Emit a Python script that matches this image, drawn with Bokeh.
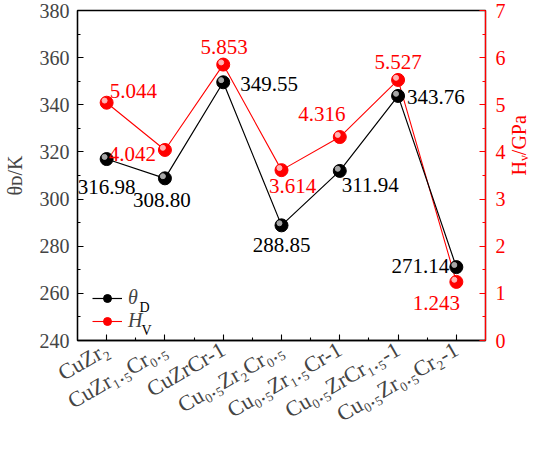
import math
from bokeh.plotting import figure
from bokeh.models import (Range1d, LinearAxis, FixedTicker, Label, Legend,
                          LegendItem, ColumnDataSource)
from bokeh.transform import dodge
from bokeh.core.properties import value
from bokeh.embed import file_html
from bokeh.resources import INLINE

# ---------------- data ----------------
categories = ["CuZr₂", "CuZr₁.₅Cr₀.₅", "CuZrCr-1", "Cu₀.₅Zr₂Cr₀.₅",
              "Cu₀.₅Zr₁.₅Cr-1", "Cu₀.₅ZrCr₁.₅-1", "Cu₀.₅Zr₀.₅Cr₂-1"]
theta_D = [316.98, 308.80, 349.55, 288.85, 311.94, 343.76, 271.14]
H_V = [5.044, 4.042, 5.853, 3.614, 4.316, 5.527, 1.243]
theta_text = ["316.98", "308.80", "349.55", "288.85", "311.94", "343.76", "271.14"]
hv_text = ["5.044", "4.042", "5.853", "3.614", "4.316", "5.527", "1.243"]
left_ticks = [240, 260, 280, 300, 320, 340, 360, 380]
left_minor = [250, 270, 290, 310, 330, 350, 370]
right_ticks = [0, 1, 2, 3, 4, 5, 6, 7]
right_minor = [0.5, 1.5, 2.5, 3.5, 4.5, 5.5, 6.5]
left_title = "θᴅ/K"
right_title = "Hᵥ/GPa"

# label placement (screen px offsets, positive y = down)
theta_dx = [0, -3, 17, 0, 2, 9, -7]
theta_dy = [28, 22, 2, 20, 14, 1, -1]
theta_align = ["center", "center", "left", "center", "left", "left", "right"]
hv_dx = [3, -9, 1, 11, -18, 0, -20]
hv_dy = [-12, 4, -18, 16, -23, -18, 21]
hv_align = ["left", "right", "center", "center", "center", "center", "center"]

FONT = "Liberation Serif"
idx = list(range(len(categories)))

p = figure(width=543, height=440,
           x_range=Range1d(-0.5, len(categories) - 0.5),
           y_range=Range1d(240, 380),
           output_backend="svg", toolbar_location=None,
           min_border_left=75, min_border_right=54,
           min_border_top=10, min_border_bottom=97)
p.extra_y_ranges = {"hv": Range1d(0, 7)}
p.xgrid.visible = False
p.ygrid.visible = False
p.outline_line_color = "black"
p.outline_line_width = 1.3
p.background_fill_color = "white"
p.border_fill_color = "white"

right = LinearAxis(y_range_name="hv")
p.add_layout(right, "right")

xa = p.xaxis[0]
ya = p.yaxis[0]
xa.ticker = FixedTicker(ticks=idx, minor_ticks=[i + 0.5 for i in idx[:-1]])
xa.major_label_overrides = {i: c for i, c in zip(idx, categories)}
xa.major_label_orientation = math.pi / 6
ya.ticker = FixedTicker(ticks=left_ticks, minor_ticks=left_minor)
right.ticker = FixedTicker(ticks=right_ticks, minor_ticks=right_minor)

for ax in (xa, ya, right):
    ax.major_tick_in = 6
    ax.major_tick_out = 0
    ax.minor_tick_in = 3
    ax.minor_tick_out = 0
    ax.axis_line_width = 1.3
    ax.major_tick_line_width = 1.1
    ax.minor_tick_line_width = 1.1
    ax.major_label_text_font = FONT
    ax.major_label_text_font_size = "20px"
    ax.axis_label_text_font = FONT
    ax.axis_label_text_font_size = "20px"
    ax.axis_label_text_font_style = "normal"
xa.major_label_text_font_size = "22px"
xa.major_label_standoff = 7
ya.major_label_standoff = 8
right.major_label_standoff = 10
for prop in ("axis_line_color", "major_tick_line_color", "minor_tick_line_color",
             "major_label_text_color", "axis_label_text_color"):
    setattr(right, prop, "red")

ya.axis_label = left_title
ya.axis_label_standoff = 11
right.axis_label = right_title
right.axis_label_standoff = 10
try:
    right.axis_label_orientation = math.pi / 2
except Exception:
    pass

bsrc = ColumnDataSource(dict(x=idx, y=theta_D, t=theta_text, dx=theta_dx,
                             dy=theta_dy, al=theta_align))
rsrc = ColumnDataSource(dict(x=idx, y=H_V, t=hv_text, dx=hv_dx, dy=hv_dy,
                             al=hv_align))

rl = p.line("x", "y", source=rsrc, color="red", line_width=1.1, y_range_name="hv")
bl = p.line("x", "y", source=bsrc, color="black", line_width=1.2)
rs = p.scatter("x", "y", source=rsrc, size=13, color="red", y_range_name="hv")
p.scatter(x=dodge("x", -0.035), y=dodge("y", 0.045), source=rsrc, size=5,
          color="#ffb4b4", y_range_name="hv")
bs = p.scatter("x", "y", source=bsrc, size=13, color="black")
p.scatter(x=dodge("x", -0.035), y=dodge("y", 0.9), source=bsrc, size=5,
          color="#a8a8a8")

p.text("x", "y", text="t", source=bsrc, x_offset="dx", y_offset="dy",
       text_align="al", text_baseline="middle", text_color="black",
       text_font=value(FONT), text_font_size="21px")
p.text("x", "y", text="t", source=rsrc, x_offset="dx", y_offset="dy",
       text_align="al", text_baseline="middle", text_color="red",
       text_font=value(FONT), text_font_size="21px", y_range_name="hv")

legend = Legend(items=[LegendItem(label="θ", renderers=[bl, bs]),
                       LegendItem(label="H", renderers=[rl, rs])],
                location=(15, 8), margin=0, padding=0, spacing=0,
                glyph_width=30, glyph_height=20, label_height=20,
                label_standoff=6, background_fill_alpha=0,
                border_line_alpha=0, label_text_font=FONT,
                label_text_font_size="20px", label_text_font_style="italic")
p.add_layout(legend)


def lab(text, x, y, size="14px", color="black"):
    p.add_layout(Label(text=text, x=x, y=y, x_units="screen", y_units="screen",
                       text_font=FONT, text_font_size=size, text_color=color,
                       text_align="left", text_baseline="alphabetic"))


# legend subscripts
lab("D", 62, 33)
lab("V", 64, 10)

open("out.html", "w").write(file_html(p, INLINE))
